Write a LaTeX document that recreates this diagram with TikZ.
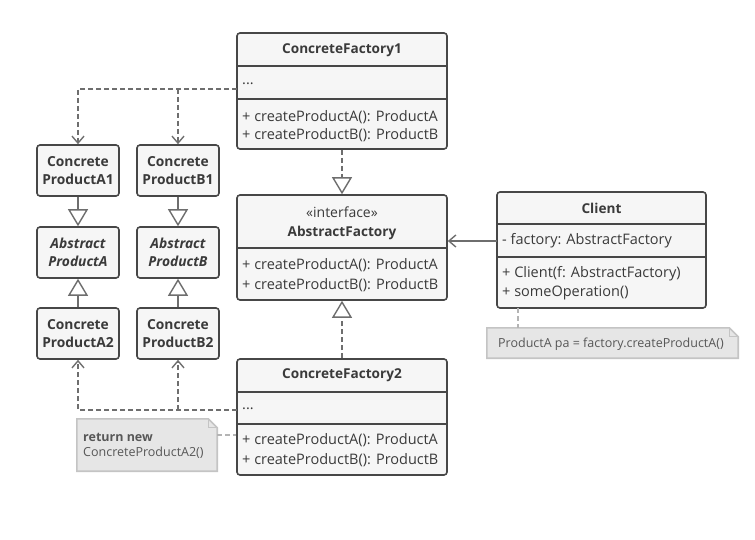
\documentclass[tikz,border=0pt]{standalone}
\usepackage{fontspec}
\setmainfont{Open Sans}
\usetikzlibrary{arrows.meta}
\definecolor{bc}{HTML}{474747}
\definecolor{bf}{HTML}{F6F6F6}
\definecolor{tc}{HTML}{3A3A3A}
\definecolor{lc}{HTML}{6E6E6E}
\definecolor{nf}{HTML}{E6E6E6}
\definecolor{nb}{HTML}{C4C4C4}
\definecolor{nl}{HTML}{B4B4B4}
\tikzset{
  box/.style={draw=bc, fill=bf, line width=1.6pt, rounded corners=3pt, inner sep=0pt},
  pbox/.style={box, minimum width=82pt, minimum height=51pt, align=center, text=tc, font=\fontsize{13.8}{17.5}\selectfont\bfseries},
  sepl/.style={draw=bc, line width=1.6pt},
  txt/.style={anchor=west, inner sep=0pt, text=tc, font=\fontsize{14.5}{17}\selectfont},
  htxt/.style={inner sep=0pt, text=tc, font=\fontsize{13.6}{17}\selectfont\bfseries},
  dep/.style={draw=lc, line width=1.6pt, dash pattern=on 5pt off 3pt},
  openarr/.style={-{Straight Barb[length=7pt,width=12pt,line width=1.4pt]}},
  inh/.style={draw=lc, line width=1.6pt, -{Triangle[open,length=17pt,width=20pt,line width=1.4pt,fill=white]}},
  notebox/.style={inner sep=0pt, minimum height=30pt},
  notedraw/.style={fill=nf, draw=nb, line width=1.6pt},
  notetxt/.style={anchor=west, inner sep=0pt, text=tc!85, font=\fontsize{12.5}{15}\selectfont},
  notelink/.style={draw=nl, line width=1.4pt, dash pattern=on 5pt off 3pt}
}
\begin{document}
\begin{tikzpicture}[x=1pt,y=-1pt]
\useasboundingbox (0,0) rectangle (755,540);
\fill[white] (0,0) rectangle (755,540);

% ConcreteFactory1
\node[box, minimum width=210pt, minimum height=116pt] (cf1) at (342,91) {};
\draw[sepl] (237,66) -- (447,66);
\draw[sepl] (237,99) -- (447,99);
\node[htxt] (cf1h) at (342,50) {ConcreteFactory1};
\node[txt] (cf1a) at (242,84) {...};
\node[txt] (cf1m1) at (242,117) {+ createProductA(): ProductA};
\node[txt] (cf1m2) at (242,135) {+ createProductB(): ProductB};

% AbstractFactory
\node[box, minimum width=210pt, minimum height=105pt] (af) at (342,247.5) {};
\draw[sepl] (237,248) -- (447,248);
\node[htxt, font=\fontsize{14}{17}\selectfont] (afs) at (342,212) {«interface»};
\node[htxt] (afh) at (342,233) {AbstractFactory};
\node[txt] (afm1) at (242,265) {+ createProductA(): ProductA};
\node[txt] (afm2) at (242,285) {+ createProductB(): ProductB};

% ConcreteFactory2
\node[box, minimum width=210pt, minimum height=116pt] (cf2) at (342,417) {};
\draw[sepl] (237,392) -- (447,392);
\draw[sepl] (237,424) -- (447,424);
\node[htxt] (cf2h) at (342,375) {ConcreteFactory2};
\node[txt] (cf2a) at (242,409) {...};
\node[txt] (cf2m1) at (242,440) {+ createProductA(): ProductA};
\node[txt] (cf2m2) at (242,460) {+ createProductB(): ProductB};

% Client
\node[box, minimum width=209pt, minimum height=116pt] (cl) at (601.5,250) {};
\draw[sepl] (497,224) -- (706,224);
\draw[sepl] (497,257) -- (706,257);
\node[htxt] (clh) at (601.5,208) {Client};
\node[txt] (clf) at (502,241) {- factory: AbstractFactory};
\node[txt] (clm1) at (502,274) {+ Client(f: AbstractFactory)};
\node[txt] (clm2) at (502,293) {+ someOperation()};

% Products
\node[pbox] (a1) at (78,170.5) {Concrete\\ProductA1};
\node[pbox] (b1) at (178,170.5) {Concrete\\ProductB1};
\node[pbox, font=\fontsize{13.8}{17.5}\selectfont\bfseries\itshape] (aa) at (78,252.5) {Abstract\\ProductA};
\node[pbox, font=\fontsize{13.8}{17.5}\selectfont\bfseries\itshape] (ab) at (178,252.5) {Abstract\\ProductB};
\node[pbox] (a2) at (78,333.5) {Concrete\\ProductA2};
\node[pbox] (b2) at (178,333.5) {Concrete\\ProductB2};

% Inheritance
\draw[inh] (a1) -- (aa);
\draw[inh] (b1) -- (ab);
\draw[inh] (a2) -- (aa);
\draw[inh] (b2) -- (ab);
\draw[inh, dep] (cf1) -- (af);
\draw[inh, dep] (cf2) -- (af);

% Dependencies from factories to products
\coordinate (f1) at (237,89);
\coordinate (j1) at (178,89);
\draw[dep, openarr] (f1) -| (a1.north);
\draw[dep, openarr] (j1) -- (b1.north);
\coordinate (f2) at (237,410);
\coordinate (j2) at (178,410);
\draw[dep, openarr] (f2) -| (a2.south);
\draw[dep, openarr] (j2) -- (b2.south);

% Client -> AbstractFactory
\coordinate (clp) at (497,241);
\draw[draw=lc, line width=1.6pt, openarr] (clp) -- (clp -| af.east);

% Note for client
\node[notebox, minimum width=251pt] (n1) at (612.5,343) {};
\draw[notedraw] (n1.south west) -- (n1.north west) -- ([xshift=-9pt]n1.north east) -- ([yshift=-9pt]n1.north east) -- (n1.south east) -- cycle;
\draw[draw=nb, line width=1.2pt] ([xshift=-9pt]n1.north east) -- ([xshift=-9pt,yshift=-9pt]n1.north east) -- ([yshift=-9pt]n1.north east);
\node[notetxt] (n1t) at (498,344) {ProductA pa = factory.createProductA()};
\coordinate (clb) at (518,308);
\draw[notelink] (clb) -- (clb |- n1.north);

% Note for CF2
\node[notebox, minimum width=140pt, minimum height=52pt] (n2) at (147,445) {};
\draw[notedraw] (n2.south west) -- (n2.north west) -- ([xshift=-9pt]n2.north east) -- ([yshift=-9pt]n2.north east) -- (n2.south east) -- cycle;
\draw[draw=nb, line width=1.2pt] ([xshift=-9pt]n2.north east) -- ([xshift=-9pt,yshift=-9pt]n2.north east) -- ([yshift=-9pt]n2.north east);
\node[notetxt, font=\fontsize{12.5}{15}\selectfont\bfseries] (n2t1) at (83,437) {return new};
\node[notetxt] (n2t2) at (83,453) {ConcreteProductA2()};
\coordinate (n2r) at (217,435);
\draw[notelink] (n2r) -- (n2r -| cf2.west);
\end{tikzpicture}
\end{document}
